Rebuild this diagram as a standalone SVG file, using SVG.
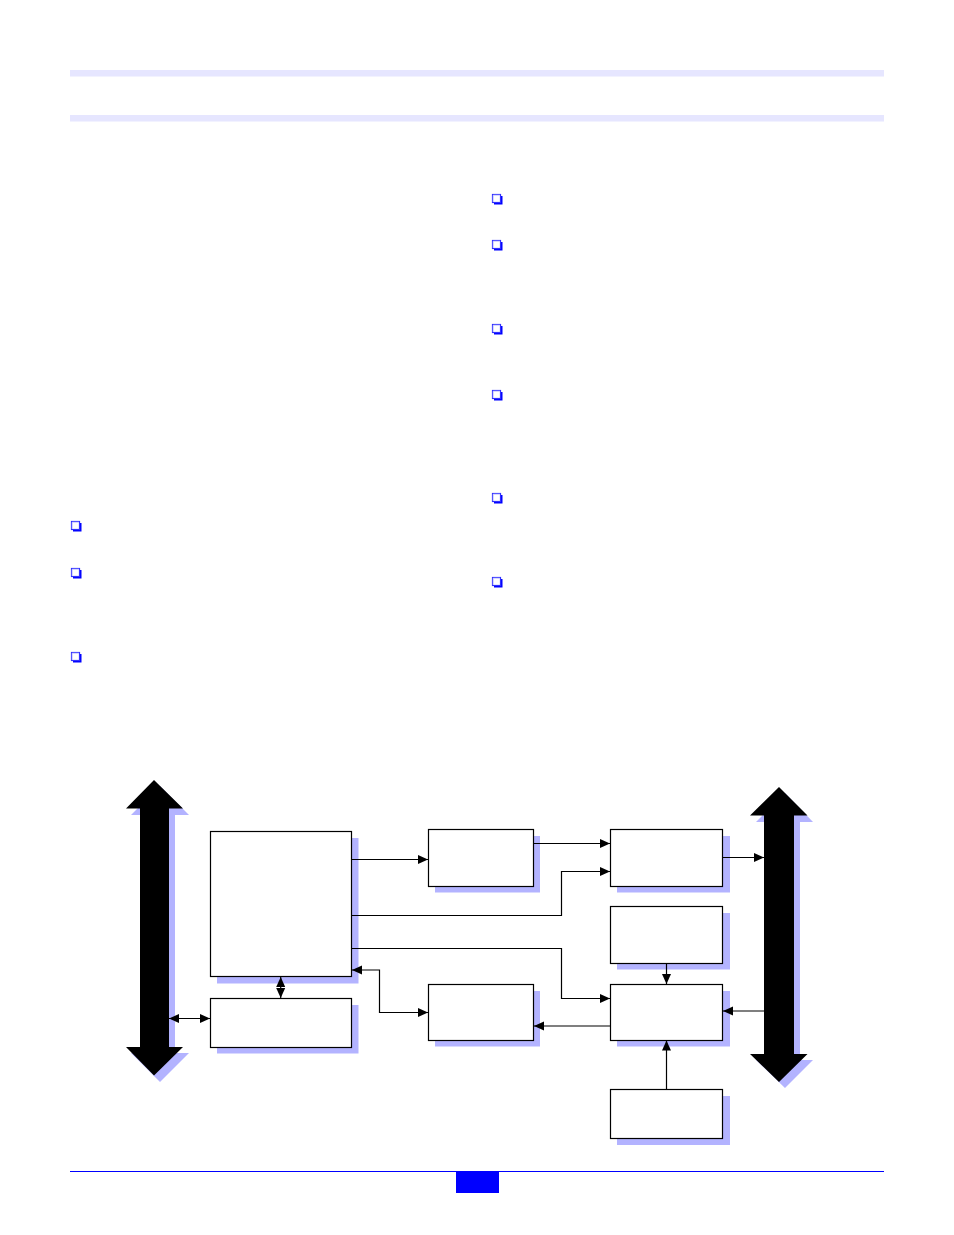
<svg xmlns="http://www.w3.org/2000/svg" xmlns:xlink="http://www.w3.org/1999/xlink" width="954" height="1235" viewBox="0 0 954 1235">
<style>
.box{fill:#fff;stroke:#000;stroke-width:1.2}
.sh{fill:#b3b3ff}
.ln{fill:none;stroke:#000;stroke-width:1.2}
.band{fill:#e6e6ff}
</style>
<defs>
<marker id="ah" markerUnits="userSpaceOnUse" markerWidth="10" markerHeight="10" viewBox="0 0 10 10" refX="10" refY="5" orient="auto-start-reverse">
<path d="M0,0.5 L10,5 L0,9.5 z" fill="#000"/>
</marker>
<g id="cb">
<path d="M2,9.5 L9.5,9.5 L9.5,2" fill="none" stroke="#0000ff" stroke-width="2"/>
<rect x="0.5" y="0.5" width="8" height="8" fill="#fff" stroke="#3030ff" stroke-width="1.2"/>
<path d="M1.2,8 L1.2,1.2 L8,1.2" fill="none" stroke="#c8c8ff" stroke-width="0.8"/>
</g>
</defs>
<rect width="954" height="1235" fill="#fff"/>
<g id="header">
<rect class="band" x="70" y="70" width="814" height="6.5"/>
<rect class="band" x="70" y="115" width="814" height="6.5"/>
</g>
<g id="bullets">
<use xlink:href="#cb" x="492" y="194"/>
<use xlink:href="#cb" x="492" y="240"/>
<use xlink:href="#cb" x="492" y="324"/>
<use xlink:href="#cb" x="492" y="390"/>
<use xlink:href="#cb" x="492" y="493"/>
<use xlink:href="#cb" x="492" y="577"/>
<use xlink:href="#cb" x="71" y="521"/>
<use xlink:href="#cb" x="71" y="568"/>
<use xlink:href="#cb" x="71" y="652"/>
</g>
<g id="bus-left">
<path class="sh" d="M160,786 L189,815 L175,815 L175,1053 L189,1053 L160,1082 L131,1053 L146,1053 L146,815 L131,815 z"/>
<path fill="#000" d="M154,780 L183,808.5 L169,808.5 L169,1047 L183,1047 L154,1075.5 L126,1047 L140,1047 L140,808.5 L126,808.5 z"/>
</g>
<g id="bus-right">
<path class="sh" d="M785,793 L813,822 L800,822 L800,1060 L813,1060 L785,1088 L756,1060 L770,1060 L770,822 L756,822 z"/>
<path fill="#000" d="M779,787 L807.5,815.5 L794,815.5 L794,1054 L807.5,1054 L779,1082 L750,1054 L764,1054 L764,815.5 L750,815.5 z"/>
</g>
<g id="n-main"><rect class="sh" x="217" y="838" width="141.5" height="145.5"/><rect class="box" x="210.5" y="831.5" width="141" height="145"/></g>
<g id="n-low"><rect class="sh" x="217" y="1005" width="141.5" height="48.5"/><rect class="box" x="210.5" y="998.5" width="141" height="49"/></g>
<g id="n-b1"><rect class="sh" x="435" y="836" width="105" height="56.5"/><rect class="box" x="428.5" y="829.5" width="105" height="57"/></g>
<g id="n-b2"><rect class="sh" x="435" y="991" width="105" height="55.5"/><rect class="box" x="428.5" y="984.5" width="105" height="56"/></g>
<g id="n-c1"><rect class="sh" x="617" y="836" width="113" height="56.5"/><rect class="box" x="610.5" y="829.5" width="112" height="57"/></g>
<g id="n-c2"><rect class="sh" x="617" y="913" width="113" height="56.5"/><rect class="box" x="610.5" y="906.5" width="112" height="57"/></g>
<g id="n-c3"><rect class="sh" x="617" y="991" width="113" height="55.5"/><rect class="box" x="610.5" y="984.5" width="112" height="56"/></g>
<g id="n-c4"><rect class="sh" x="617" y="1096" width="113" height="49"/><rect class="box" x="610.5" y="1089.5" width="112" height="49"/></g>
<g id="connectors">
<line class="ln" x1="280.7" y1="977" x2="280.7" y2="998" marker-start="url(#ah)" marker-end="url(#ah)"/>
<line class="ln" x1="169" y1="1018.5" x2="210" y2="1018.5" marker-start="url(#ah)" marker-end="url(#ah)"/>
<line class="ln" x1="352" y1="859.5" x2="428" y2="859.5" marker-end="url(#ah)"/>
<line class="ln" x1="534" y1="843.5" x2="610" y2="843.5" marker-end="url(#ah)"/>
<polyline class="ln" points="352,915.5 561.5,915.5 561.5,871.5 610,871.5" marker-end="url(#ah)"/>
<polyline class="ln" points="352,948.5 561.5,948.5 561.5,998.5 610,998.5" marker-end="url(#ah)"/>
<polyline class="ln" points="352,970 379.5,970 379.5,1012.5 428,1012.5" marker-start="url(#ah)" marker-end="url(#ah)"/>
<line class="ln" x1="610" y1="1026" x2="534" y2="1026" marker-end="url(#ah)"/>
<line class="ln" x1="666.5" y1="963.5" x2="666.5" y2="984" marker-end="url(#ah)"/>
<line class="ln" x1="666.5" y1="1089" x2="666.5" y2="1040.5" marker-end="url(#ah)"/>
<line class="ln" x1="723" y1="857.5" x2="764" y2="857.5" marker-end="url(#ah)"/>
<line class="ln" x1="764" y1="1011" x2="723" y2="1011" marker-end="url(#ah)"/>
</g>
<g id="footer">
<line x1="70" y1="1171.5" x2="884" y2="1171.5" stroke="#0000ff" stroke-width="1"/>
<rect x="456" y="1171" width="43" height="22" fill="#0000ff"/>
</g>
</svg>
